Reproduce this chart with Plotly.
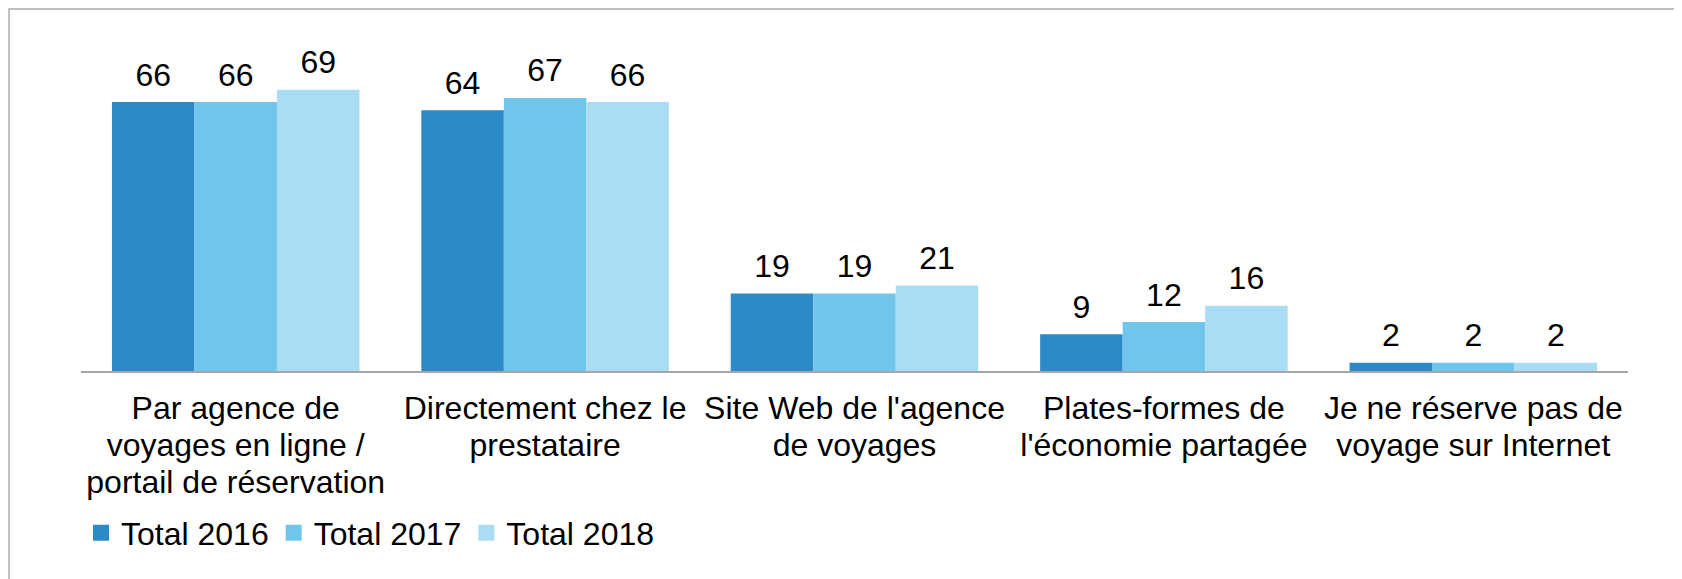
import plotly.graph_objects as go

categories = [
    "Par agence de<br>voyages en ligne /<br>portail de réservation",
    "Directement chez le<br>prestataire",
    "Site Web de l'agence<br>de voyages",
    "Plates-formes de<br>l'économie partagée",
    "Je ne réserve pas de<br>voyage sur Internet",
]
total_2016 = [66, 64, 19, 9, 2]
total_2017 = [66, 67, 19, 12, 2]
total_2018 = [69, 66, 21, 16, 2]

series = [
    ("Total 2016", total_2016, "#2C8AC6"),
    ("Total 2017", total_2017, "#70C6EA"),
    ("Total 2018", total_2018, "#AADDF3"),
]

FONT = "Liberation Sans, Arial, sans-serif"

# bigger glyphs than the base tick font, so the lines sit closer together
tick_text = [
    "<br>".join(f"<span style='font-size:32px'>{part}</span>" for part in c.split("<br>"))
    for c in categories
]

fig = go.Figure()

for name, vals, color in series:
    fig.add_trace(go.Bar(
        x=categories, y=vals, name=name, offsetgroup=name,
        marker=dict(color=color, line=dict(width=0)),
        showlegend=False, hoverinfo="skip",
    ))
    # value labels, sitting a bit above each bar
    fig.add_trace(go.Scatter(
        x=categories, y=vals, offsetgroup=name, mode="markers+text",
        text=[str(v) for v in vals], textposition="top center",
        textfont=dict(size=32, color="black", family=FONT),
        marker=dict(size=12, opacity=0), showlegend=False, hoverinfo="skip",
        cliponaxis=False,
    ))
    # legend entry with a bigger square
    fig.add_trace(go.Scatter(
        x=[None], y=[None], name=name, mode="markers",
        marker=dict(symbol="square", size=16, color=color),
    ))

fig.update_layout(
    width=1674, height=571,
    barmode="group", bargap=0.2, bargroupgap=0,
    scattermode="group", scattergap=0.2,
    plot_bgcolor="white", paper_bgcolor="white",
    margin=dict(l=73, r=54, t=37, b=208),
    font=dict(family=FONT, size=32, color="black"),
    legend=dict(
        orientation="h", x=0.0, xanchor="left", y=-0.497, yanchor="middle",
        font=dict(size=32, family=FONT, color="black"),
        itemwidth=30, tracegroupgap=0, bgcolor="rgba(0,0,0,0)",
    ),
    xaxis=dict(
        showline=True, linecolor="#A6A6A6", linewidth=2,
        showgrid=False, ticks="outside", ticklen=12, tickcolor="rgba(0,0,0,0)",
        tickmode="array", tickvals=categories, ticktext=tick_text,
        tickfont=dict(size=28.5, family=FONT, color="black"),
    ),
    yaxis=dict(range=[0, 80], visible=False, showgrid=False, zeroline=False),
    shapes=[dict(
        type="rect", xref="paper", yref="paper",
        x0=-0.0465, x1=1.0336, y0=-0.7, y1=1.1104,
        line=dict(color="#BFBFBF", width=2), fillcolor="rgba(0,0,0,0)",
    )],
)

fig.write_html("out.html")
